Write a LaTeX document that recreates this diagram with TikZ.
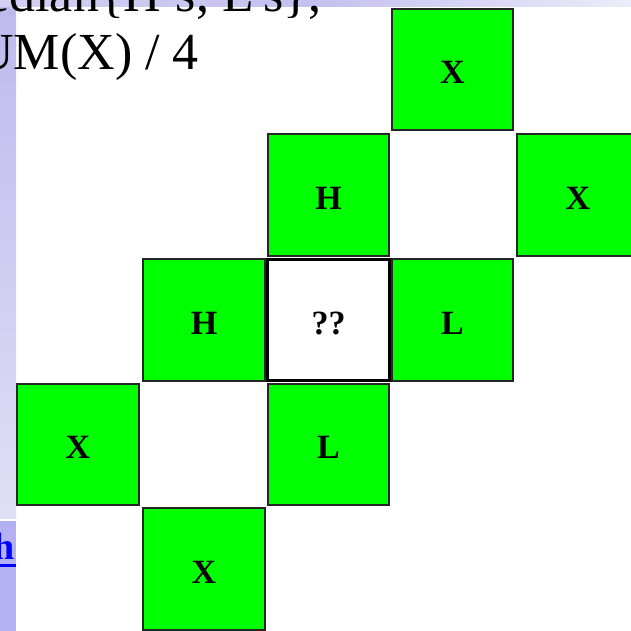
\documentclass[tikz,border=0pt]{standalone}
\usepackage{fontspec}
\setmainfont{Liberation Serif}
\definecolor{cellgreen}{HTML}{00FF00}
\definecolor{lavA}{HTML}{BDB9EE}
\definecolor{lavB}{HTML}{E0DFF6}
\definecolor{lavC}{HTML}{B3B0F4}
\definecolor{lavD}{HTML}{D3D0F2}
\definecolor{lavE}{HTML}{C4C0EF}
\definecolor{lavF}{HTML}{ECECF9}
\definecolor{linkblue}{HTML}{0000FF}
\begin{document}
\begin{tikzpicture}[x=1pt,y=-1pt,
  cell/.style={draw=black!85, line width=2.4pt, fill=cellgreen, minimum size=121.5pt,
    inner sep=0pt, text height=28pt, text depth=0pt,
    font=\fontsize{34}{34}\selectfont\bfseries},
  qcell/.style={cell, fill=white, draw=black, line width=3.4pt},
  slidetext/.style={font=\fontsize{52}{52}\selectfont, inner sep=0pt}]
\useasboundingbox (0,0) rectangle (631,631);
\clip (0,0) rectangle (631,631);
\fill[white] (0,0) rectangle (631,631);
% left band
\fill[top color=lavA, bottom color=lavB] (0,0) rectangle (16,518);
\fill[lavC] (0,521) rectangle (16,631);
% top band
\fill[left color=lavD, right color=lavF, middle color=lavE] (0,0) rectangle (631,7);
% slide text
\node[slidetext, anchor=base east] (t1) at (322,12) {median\{H's, L's\},};
\node[slidetext, anchor=base east] (t2) at (199,70) {SUM(X) / 4};
% link
\node[font=\fontsize{38}{38}\selectfont\bfseries, text=linkblue, inner sep=0pt, anchor=base east] (lnk) at (15,559) {h};
\draw[linkblue, line width=3pt] (0,565) -- (16,565);
% cells
\node[cell] (c03) at (452.5,69.5) {X};
\node[cell] (c12) at (328.5,195) {H};
\node[cell] (c14) at (578,195) {X};
\node[cell] (c21) at (204,320) {H};
\node[cell] (c23) at (452.5,320) {L};
\node[cell] (c30) at (78,444.5) {X};
\node[cell] (c32) at (328.5,444.5) {L};
\node[cell] (c41) at (204,569) {X};
\node[qcell] (c22) at (328.5,320) {??};
\end{tikzpicture}
\end{document}
